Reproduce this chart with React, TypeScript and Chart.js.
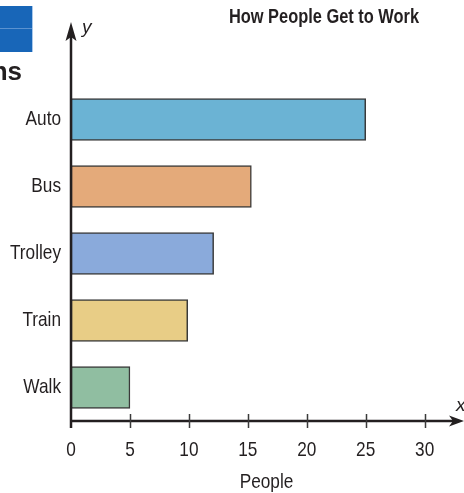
import React, { useEffect, useRef } from 'react';
import { Chart, registerables } from 'chart.js';

Chart.register(...registerables);

const categories = ['Auto', 'Bus', 'Trolley', 'Train', 'Walk'];
const people = [25, 15.3, 12.1, 9.9, 5];
const barColors = ['#6bb3d4', '#e4aa7a', '#8aaadb', '#e8cd86', '#90bea1'];
const xTicks = [0, 5, 10, 15, 20, 25, 30];
const titleText = 'How People Get to Work';
const xTitle = 'People';
const yLabel = 'y';
const xLabel = 'x';
const cornerText = 'ns';

const PLAIN = "'Liberation Sans', Arial, sans-serif";
const INK = '#231f20';
const NARROW_SCALE = 0.82;

function narrowText(ctx: any, text: string, x: number, y: number, font: string, align: string, baseline: string) {
  ctx.save();
  ctx.font = font;
  ctx.textAlign = align;
  ctx.textBaseline = baseline;
  ctx.fillStyle = INK;
  ctx.translate(x, y);
  ctx.scale(NARROW_SCALE, 1);
  ctx.fillText(text, 0, 0);
  ctx.restore();
}

const decor = {
  id: 'decor',
  afterDraw(chart: any) {
    const { ctx, chartArea, scales } = chart;
    const xs = scales.x;
    const ys = scales.y;
    const x0 = chartArea.left;
    const yB = chartArea.bottom;
    ctx.save();
    // blue corner box
    ctx.fillStyle = '#1866b8';
    ctx.fillRect(0, 6, 32, 46);
    ctx.strokeStyle = '#5a92d0';
    ctx.lineWidth = 1;
    ctx.beginPath();
    ctx.moveTo(0, 28.5);
    ctx.lineTo(32, 28.5);
    ctx.stroke();
    ctx.strokeStyle = '#a9c8ea';
    ctx.beginPath();
    ctx.moveTo(32.5, 6);
    ctx.lineTo(32.5, 52);
    ctx.stroke();
    // corner text
    ctx.fillStyle = INK;
    ctx.font = `bold 26px ${PLAIN}`;
    ctx.textAlign = 'right';
    ctx.textBaseline = 'alphabetic';
    ctx.fillText(cornerText, 22, 80);
    // axis letters
    ctx.font = `italic 19px ${PLAIN}`;
    ctx.textAlign = 'left';
    ctx.fillText(yLabel, 82, 33);
    ctx.fillText(xLabel, 456, 411);
    ctx.restore();

    // title
    narrowText(ctx, titleText, 324, 23, `bold 20px ${PLAIN}`, 'center', 'alphabetic');
    // category labels
    categories.forEach((c, i) => {
      narrowText(ctx, c, 61, ys.getPixelForValue(i), `21px ${PLAIN}`, 'right', 'middle');
    });
    // x tick labels
    xTicks.forEach((v) => {
      narrowText(ctx, String(v), xs.getPixelForValue(v), 456, `21px ${PLAIN}`, 'center', 'alphabetic');
    });
    // x axis title
    narrowText(ctx, xTitle, (xs.left + xs.right) / 2 + 1, 488, `21px ${PLAIN}`, 'center', 'alphabetic');

    ctx.save();
    // axes lines
    ctx.strokeStyle = INK;
    ctx.lineWidth = 2.5;
    ctx.beginPath();
    ctx.moveTo(x0, 36);
    ctx.lineTo(x0, yB + 7);
    ctx.moveTo(x0, yB);
    ctx.lineTo(455, yB);
    ctx.stroke();
    // arrowheads
    ctx.fillStyle = INK;
    ctx.beginPath();
    ctx.moveTo(x0, 22);
    ctx.lineTo(x0 - 5.5, 41);
    ctx.lineTo(x0, 37);
    ctx.lineTo(x0 + 5.5, 41);
    ctx.closePath();
    ctx.fill();
    ctx.beginPath();
    ctx.moveTo(464, yB);
    ctx.lineTo(449, yB - 5.5);
    ctx.lineTo(453, yB);
    ctx.lineTo(449, yB + 5.5);
    ctx.closePath();
    ctx.fill();
    // tick marks
    ctx.strokeStyle = '#3a3a3a';
    ctx.lineWidth = 1.5;
    ctx.beginPath();
    xTicks.forEach((v) => {
      if (v === 0) return;
      const px = Math.round(xs.getPixelForValue(v)) + 0.5;
      ctx.moveTo(px, yB - 7);
      ctx.lineTo(px, yB + 7);
    });
    ctx.stroke();
    ctx.restore();
  },
};

export default function App() {
  const ref = useRef<HTMLCanvasElement | null>(null);
  useEffect(() => {
    if (!ref.current) return;
    const chart = new Chart(ref.current, {
      type: 'bar',
      data: {
        labels: categories,
        datasets: [
          {
            data: people,
            backgroundColor: barColors,
            borderColor: '#3a3a3a',
            borderWidth: 1.5,
            borderSkipped: false,
            barThickness: 42,
          },
        ],
      },
      options: {
        indexAxis: 'y',
        responsive: false,
        animation: false,
        devicePixelRatio: 1,
        layout: { padding: { top: 86, right: 4, left: 0, bottom: 0 } },
        plugins: { legend: { display: false }, tooltip: { enabled: false }, title: { display: false } },
        scales: {
          x: {
            type: 'linear',
            min: 0,
            max: 33,
            afterBuildTicks: (s: any) => {
              s.ticks = xTicks.map((v) => ({ value: v }));
            },
            afterFit: (s: any) => {
              s.height = 72;
            },
            grid: { display: false, drawTicks: false },
            border: { display: false },
            ticks: { display: false },
            title: { display: false, text: xTitle },
          },
          y: {
            type: 'category',
            afterFit: (s: any) => {
              s.width = 71;
            },
            grid: { display: false, drawTicks: false },
            border: { display: false },
            ticks: { display: false },
          },
        },
      },
      plugins: [decor],
    });
    return () => chart.destroy();
  }, []);
  return (
    <div style={{ position: 'absolute', left: 0, top: 0, width: 464, height: 493, background: '#fff' }}>
      <canvas ref={ref} width={464} height={493} style={{ display: 'block' }} />
    </div>
  );
}
